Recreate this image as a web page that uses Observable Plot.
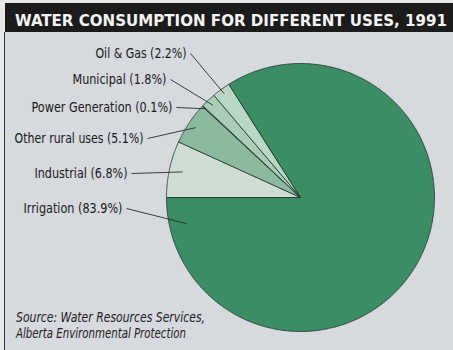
<!DOCTYPE html>
<html><head><meta charset="utf-8">
<script src="https://cdn.jsdelivr.net/npm/d3@7"></script>
<script src="https://cdn.jsdelivr.net/npm/@observablehq/plot@0.6"></script>
<style>
body{margin:0;background:#e6e7e9;}
#wrap{position:relative;width:453px;height:350px;overflow:hidden;}
#title{position:absolute;left:5px;top:3px;width:448px;height:29px;background:#1b1b1b;}
#panel{position:absolute;left:4px;top:32px;width:449px;height:318px;background:#d6d9de;border-left:1.5px solid #3a3a3a;box-sizing:border-box;}
#chart{position:absolute;left:0;top:32px;}
#caption{position:absolute;left:0;top:300px;}
</style>
</head><body>
<div id="wrap">
  <div id="title"></div>
  <div id="panel"></div>
  <div id="chart"></div>
  <div id="caption"></div>
</div>
<script>
// ---- data ----
const titleText = "WATER CONSUMPTION FOR DIFFERENT USES, 1991";
const categories = ["Industrial", "Other rural uses", "Power Generation", "Municipal", "Oil & Gas", "Irrigation"];
const shares = [6.8, 5.1, 0.1, 1.8, 2.2, 83.9];
const captionLines = ["Source: Water Resources Services,", "Alberta Environmental Protection"];

// ---- styles / layout ----
const sliceColors = ["#cfddd5", "#8cba9e", "#9fc6ae", "#a9cdb7", "#b9d7c4", "#3b8d63"];
const FONT = "'DejaVu Sans Condensed', 'Open Sans', sans-serif";
const CX = 300, CY = 197, R = 134, TOP = 32, W = 453, H = 318;
// label right edge / middle y / rendered width (page px), leader radius fraction
const labelLayout = [
  {end: 127, y: 173, w: 93,  r: 0.90},
  {end: 143, y: 138, w: 129, r: 0.94},
  {end: 172, y: 107, w: 141, r: 0.97},
  {end: 166, y: 79,  w: 94,  r: 0.95},
  {end: 186, y: 53,  w: 91,  r: 0.96},
  {end: 122, y: 208, w: 99,  r: 0.87, back: 13}
];

// ---- geometry from data ----
const total = d3.sum(shares);
let acc = 270;
const slices = categories.map((c, i) => {
  const a0 = acc, a1 = acc + shares[i] / total * 360;
  acc = a1;
  return {c, a0, a1, v: shares[i]};
});
const rad = a => a * Math.PI / 180;
const pts = [];
for (const s of slices) {
  pts.push({c: s.c, x: 0, y: 0});
  const n = Math.max(2, Math.ceil((s.a1 - s.a0) / 0.5));
  for (let k = 0; k <= n; k++) {
    const a = s.a0 + (s.a1 - s.a0) * k / n;
    pts.push({c: s.c, x: Math.sin(rad(a)), y: Math.cos(rad(a))});
  }
  pts.push({c: s.c, x: 0, y: 0});
}
const px2x = px => (px - CX) / R;
const py2y = py => (CY - py) / R;
const labels = slices.map((s, i) => {
  const L = labelLayout[i];
  const ang = L.back != null ? s.a1 - L.back : (s.a0 + s.a1) / 2;
  return {
    text: `${s.c} (${s.v.toFixed(1)}%)`,
    x: px2x(L.end), y: py2y(L.y),
    x1: px2x(L.end + 4), y1: py2y(L.y),
    x2: Math.sin(rad(ang)) * L.r, y2: Math.cos(rad(ang)) * L.r
  };
});

const chart = Plot.plot({
  width: W, height: H,
  marginLeft: CX - R, marginRight: W - (CX + R),
  marginTop: (CY - TOP) - R, marginBottom: H - (CY - TOP + R),
  x: {domain: [-1, 1], axis: null},
  y: {domain: [-1, 1], axis: null},
  color: {domain: categories, range: sliceColors},
  style: {background: "transparent", fontFamily: FONT, overflow: "visible"},
  marks: [
    Plot.line(pts, {x: "x", y: "y", z: "c", fill: "c", stroke: "#22332a", strokeWidth: 0.8, curve: "linear"}),
    Plot.link(labels, {x1: "x1", y1: "y1", x2: "x2", y2: "y2", stroke: "#2a2a2a", strokeWidth: 0.9}),
    Plot.text(labels, {x: "x", y: "y", text: "text", textAnchor: "end", fontSize: 14, fill: "#1a1a1a", clip: false})
  ]
});
// fit label widths to the reference
d3.select(chart).selectAll("g[aria-label=text] text").each(function(d, i) {
  this.setAttribute("textLength", labelLayout[i].w);
  this.setAttribute("lengthAdjust", "spacingAndGlyphs");
});
document.getElementById("chart").appendChild(chart);

// title
const tsvg = d3.create("svg").attr("width", 448).attr("height", 29);
tsvg.append("text").attr("x", 10).attr("y", 23)
  .attr("textLength", 432).attr("lengthAdjust", "spacingAndGlyphs")
  .attr("font-family", "'DejaVu Sans Condensed', sans-serif").attr("font-weight", "bold").attr("font-size", 16.5)
  .attr("fill", "#f4f4f4").text(titleText);
document.getElementById("title").appendChild(tsvg.node());

// caption
const csvg = d3.create("svg").attr("width", 260).attr("height", 45);
const capLens = [189, 170];
captionLines.forEach((t, i) => {
  csvg.append("text").attr("x", 16).attr("y", 22 + i * 16)
    .attr("textLength", capLens[i]).attr("lengthAdjust", "spacingAndGlyphs")
    .attr("font-family", FONT).attr("font-style", "italic").attr("font-size", 14)
    .attr("fill", "#222").text(t);
});
document.getElementById("caption").appendChild(csvg.node());
</script>
</body></html>
